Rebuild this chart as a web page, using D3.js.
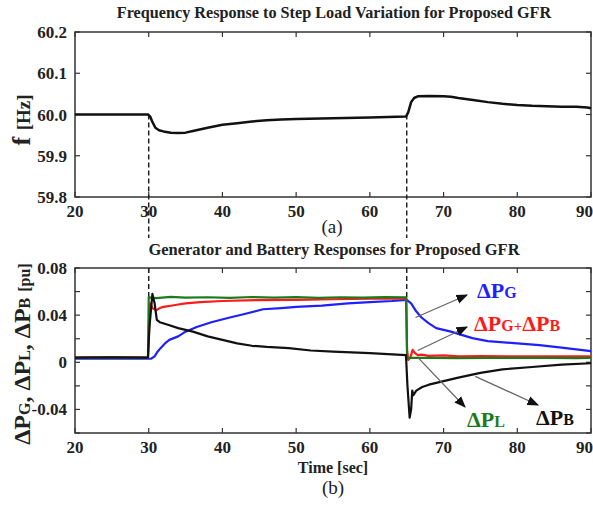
<!DOCTYPE html>
<html>
<head>
<meta charset="utf-8">
<script src="https://cdn.jsdelivr.net/npm/d3@7/dist/d3.min.js"></script>
<style>
  html, body { margin: 0; padding: 0; background: #fff; }
  svg { display: block; }
  text { font-family: "Liberation Serif", "Times New Roman", serif; }
</style>
</head>
<body>
<svg id="chart" width="593" height="508"></svg>
<script>
// ---- data ----
const timeTicks = [20, 30, 40, 50, 60, 70, 80, 90];
const freqTicks = [59.8, 59.9, 60.0, 60.1, 60.2];
const powerTicks = [-0.04, 0, 0.04, 0.08];
const powerMinorTicks = [-0.06, -0.04, -0.02, 0, 0.02, 0.04, 0.06, 0.08];
const stepTimes = [30, 65];

// frequency f [Hz]
const freqTime = [20, 29.9, 30.2, 30.5, 30.9, 31.4, 32, 33, 34, 35, 36, 38, 40, 42, 44, 46, 48, 50, 55, 60, 64.9,
  65.2, 65.6, 66, 66.5, 68, 70, 71, 72, 74, 76, 78, 80, 82, 84, 86, 88, 89.5, 90];
const freqValue = [60.0, 60.0, 59.995, 59.982, 59.968, 59.962, 59.959, 59.956, 59.955, 59.956, 59.96, 59.968, 59.975,
  59.979, 59.983, 59.986, 59.988, 59.989, 59.991, 59.993, 59.995,
  60.005, 60.03, 60.04, 60.044, 60.045, 60.044, 60.043, 60.04, 60.035, 60.03, 60.026, 60.023, 60.021, 60.02,
  60.019, 60.019, 60.017, 60.015];

// load change ΔPL [pu]
const loadTime = [20, 25, 29.9, 30.0, 31, 33, 35, 38, 41, 44, 47, 50, 53, 56, 59, 62, 64.95, 65.05, 68, 72, 76, 80, 84, 88, 90];
const loadValue = [0.0038, 0.0040, 0.0038, 0.0550, 0.0545, 0.0555, 0.0548, 0.0552, 0.0546, 0.0554, 0.0549, 0.0553,
  0.0547, 0.0552, 0.0548, 0.0553, 0.0550, 0.0037, 0.0038, 0.0036, 0.0038, 0.0037, 0.0038, 0.0036, 0.0037];

// generator + battery ΔPG+ΔPB [pu]
const sumTime = [20, 25, 29.9, 30.0, 30.2, 30.5, 31, 31.5, 32, 33, 34, 35, 37, 40, 45, 50, 55, 60, 64.9,
  65.05, 65.2, 65.5, 65.8, 66.1, 66.5, 67, 68, 70, 72, 75, 80, 85, 90];
const sumValue = [0.004, 0.0042, 0.004, 0.02, 0.05, 0.046, 0.044, 0.046, 0.047, 0.048, 0.049, 0.05, 0.051, 0.052,
  0.0528, 0.053, 0.0535, 0.054, 0.054,
  0.01, 0.002, 0.004, 0.0105, 0.008, 0.006, 0.0065, 0.0055, 0.0058, 0.005, 0.0052, 0.005, 0.005, 0.005];

// generator ΔPG [pu]
const genTime = [20, 30.3, 30.8, 31.2, 31.6, 32.2, 32.8, 34, 35, 36.5, 38.5, 41, 43, 45.5, 48, 50, 53.5, 57, 60, 63, 65,
  65.6, 66.2, 67, 68, 69, 71, 73.9, 76, 80, 83, 86, 90];
const genValue = [0.003, 0.003, 0.005, 0.009, 0.012, 0.016, 0.019, 0.022, 0.026, 0.03, 0.034, 0.038, 0.041, 0.045,
  0.046, 0.047, 0.048, 0.05, 0.051, 0.052, 0.053,
  0.05, 0.044, 0.038, 0.033, 0.029, 0.026, 0.0205, 0.018, 0.016, 0.0145, 0.0125, 0.0095];

// battery ΔPB [pu]
const batTime = [20, 25, 29.9, 30.1, 30.5, 30.8, 31.1, 31.5, 32.5, 34, 36, 38, 40, 42, 44, 46, 49, 52, 55, 60, 64.9,
  65.1, 65.4, 65.6, 65.75, 65.9, 66.3, 67.1, 68, 70, 72, 75, 78, 82, 86, 90];
const batValue = [0.004, 0.0042, 0.004, 0.03, 0.058, 0.05, 0.036, 0.034, 0.032, 0.029, 0.026, 0.022, 0.019, 0.016,
  0.014, 0.013, 0.012, 0.01, 0.009, 0.0078, 0.006,
  -0.02, -0.047, -0.04, -0.024, -0.028, -0.024, -0.021, -0.019, -0.016, -0.013, -0.009, -0.006, -0.004, -0.002, -0.0008];

// ---- layout ----
const svg = d3.select("#chart");
svg.append("rect").attr("width", 593).attr("height", 508).attr("fill", "#fff");

const x = d3.scaleLinear().domain([20, 90]).range([75, 591]);
const yF = d3.scaleLinear().domain([59.8, 60.2]).range([197, 32]);
const yP = d3.scaleLinear().domain([-0.06, 0.08]).range([433, 268]);

const frameColor = "#333";
const tickFont = "bold 17px 'Liberation Serif', serif";

function drawFrame(yScale, yMajor, yMinor, fmt) {
  const [y0, y1] = yScale.range();
  const [xl, xr] = x.range();
  const g = svg.append("g");
  // inward ticks on all four sides
  timeTicks.forEach((t, i) => {
    g.append("line").attr("x1", x(t)).attr("x2", x(t)).attr("y1", y0).attr("y2", y0 - 5)
      .attr("stroke", frameColor).attr("stroke-width", 1.2);
    g.append("line").attr("x1", x(t)).attr("x2", x(t)).attr("y1", y1).attr("y2", y1 + 5)
      .attr("stroke", frameColor).attr("stroke-width", 1.2);
    const last = i === timeTicks.length - 1;
    g.append("text").attr("x", last ? 593 : x(t)).attr("y", y0 + 20)
      .attr("text-anchor", last ? "end" : "middle")
      .style("font", tickFont).attr("fill", "#222").text(t);
  });
  yMinor.forEach(v => {
    g.append("line").attr("x1", xl).attr("x2", xl + 5).attr("y1", yScale(v)).attr("y2", yScale(v))
      .attr("stroke", frameColor).attr("stroke-width", 1.2);
    g.append("line").attr("x1", xr).attr("x2", xr - 5).attr("y1", yScale(v)).attr("y2", yScale(v))
      .attr("stroke", frameColor).attr("stroke-width", 1.2);
  });
  yMajor.forEach(v => {
    g.append("text").attr("x", xl - 8).attr("y", yScale(v) + 6).attr("text-anchor", "end")
      .style("font", tickFont).attr("fill", "#222").text(fmt(v));
  });
  g.append("rect").attr("x", xl).attr("y", y1)
    .attr("width", xr - xl).attr("height", y0 - y1)
    .attr("fill", "none").attr("stroke", frameColor).attr("stroke-width", 1.5);
}

drawFrame(yF, freqTicks, freqTicks, d => d.toFixed(1));
drawFrame(yP, powerTicks, powerMinorTicks, d => d === 0 ? "0" : d.toFixed(2));

// dashed markers at the load steps (broken around the lower title)
stepTimes.forEach(t => {
  [[yF(60.0), 238], [yP.range()[1], yP(0.055)]].forEach(([a, b]) => {
    svg.append("line").attr("x1", x(t)).attr("x2", x(t)).attr("y1", a).attr("y2", b)
      .attr("stroke", "#222").attr("stroke-width", 1.5).attr("stroke-dasharray", "5,3");
  });
});

function series(times, values, yScale, color, width) {
  const pts = times.map((t, i) => [t, values[i]]);
  svg.append("path").datum(pts)
    .attr("d", d3.line().x(d => x(d[0])).y(d => yScale(d[1])))
    .attr("fill", "none").attr("stroke", color).attr("stroke-width", width)
    .attr("stroke-linejoin", "round");
}

series(freqTime, freqValue, yF, "#111", 2.5);
series(genTime, genValue, yP, "#1f1fff", 2.2);
series(sumTime, sumValue, yP, "#ff1a1a", 2.2);
series(loadTime, loadValue, yP, "#1c7a1c", 2.2);
series(batTime, batValue, yP, "#111", 2.2);

// titles and captions
svg.append("text").attr("x", 334).attr("y", 18).attr("text-anchor", "middle")
  .style("font", "bold 16.2px 'Liberation Serif', serif").attr("fill", "#222")
  .text("Frequency Response to Step Load Variation for Proposed GFR");
svg.append("text").attr("x", 334).attr("y", 255).attr("text-anchor", "middle")
  .style("font", "bold 16.5px 'Liberation Serif', serif").attr("fill", "#222")
  .text("Generator and Battery Responses for Proposed GFR");
svg.append("text").attr("x", 332).attr("y", 233).attr("text-anchor", "middle")
  .style("font", "19px 'Liberation Serif', serif").attr("fill", "#222").text("(a)");
svg.append("text").attr("x", 333).attr("y", 473).attr("text-anchor", "middle")
  .style("font", "bold 16px 'Liberation Serif', serif").attr("fill", "#222").text("Time [sec]");
svg.append("text").attr("x", 333).attr("y", 494).attr("text-anchor", "middle")
  .style("font", "19px 'Liberation Serif', serif").attr("fill", "#222").text("(b)");

// y-axis labels
const fLab = svg.append("text").attr("transform", "translate(30,120) rotate(-90)")
  .attr("text-anchor", "middle").attr("fill", "#222")
  .style("font-family", "'Liberation Serif', serif").style("font-weight", "bold");
fLab.append("tspan").style("font-size", "26px").text("f ");
fLab.append("tspan").style("font-size", "19px").text("[Hz]");

const pLab = svg.append("text").attr("transform", "translate(30,354) rotate(-90)")
  .attr("text-anchor", "middle").attr("fill", "#222")
  .style("font-family", "'Liberation Serif', serif").style("font-weight", "bold");
[["ΔP", "G", ", "], ["ΔP", "L", ", "], ["ΔP", "B", " "]].forEach(([a, s, sep]) => {
  pLab.append("tspan").style("font-size", "24px").text(a);
  pLab.append("tspan").style("font-size", "16px").text(s);
  pLab.append("tspan").style("font-size", "24px").text(sep);
});
pLab.append("tspan").style("font-size", "16px").text("[pu]");

// annotations with arrows
svg.append("defs").append("marker").attr("id", "head")
  .attr("viewBox", "0 0 10 10").attr("refX", 9).attr("refY", 5)
  .attr("markerWidth", 9).attr("markerHeight", 9).attr("orient", "auto")
  .append("path").attr("d", "M0,1 L10,5 L0,9 Z").attr("fill", "#111");

const notes = [
  { parts: [["ΔP", 22], ["G", 16]], color: "#1f1fff", tx: 477, ty: 298, from: [66.2, 0.038], to: [467, 295] },
  { parts: [["ΔP", 22], ["G", 16], ["+", 15], ["ΔP", 22], ["B", 16]], color: "#ff1a1a", tx: 474, ty: 331, from: [66.5, 0.010], to: [467, 327] },
  { parts: [["ΔP", 22], ["L", 16]], color: "#1c7a1c", tx: 467, ty: 427, from: [66.6, 0.0035], to: [465, 407] },
  { parts: [["ΔP", 22], ["B", 16]], color: "#111", tx: 536, ty: 425, from: [74.3, -0.012], to: [538, 405] }
];
notes.forEach(n => {
  svg.append("line").attr("x1", x(n.from[0])).attr("y1", yP(n.from[1]))
    .attr("x2", n.to[0]).attr("y2", n.to[1])
    .attr("stroke", "#666").attr("stroke-width", 1.3).attr("marker-end", "url(#head)");
  const t = svg.append("text").attr("x", n.tx).attr("y", n.ty).attr("fill", n.color)
    .style("font-family", "'Liberation Serif', serif").style("font-weight", "bold");
  n.parts.forEach(([s, fs]) => t.append("tspan").style("font-size", fs + "px").text(s));
});
</script>
</body>
</html>
